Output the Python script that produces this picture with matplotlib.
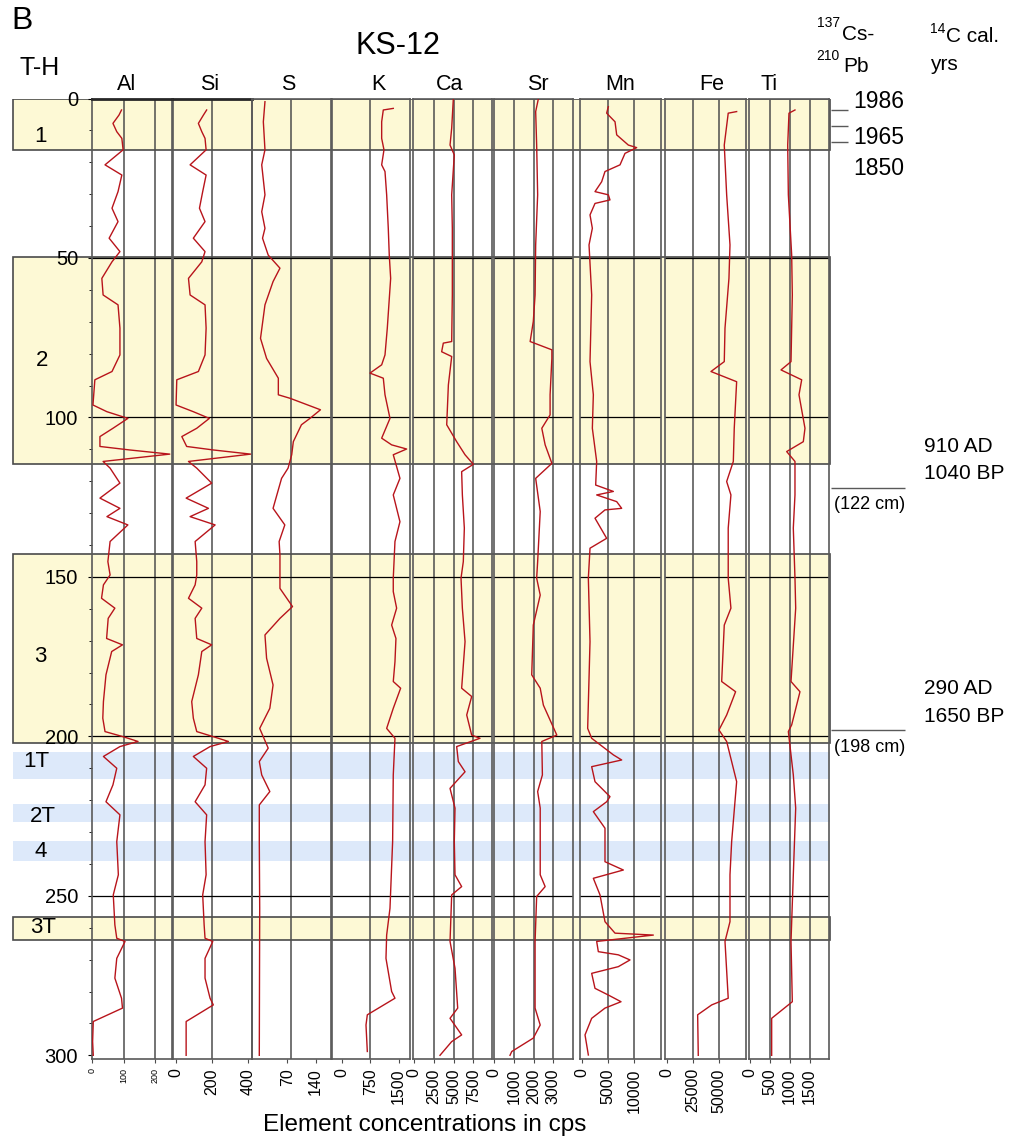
import matplotlib.pyplot as plt
from matplotlib.patches import Rectangle

plt.rcParams['font.family'] = ['Liberation Sans', 'DejaVu Sans']

# XRF core scan KS-12, depth in cm, counts per second
al_depth = [3.6, 5.2, 7.8, 10.4, 12.5, 16.1, 20.8, 24, 29.2, 34.4, 38.6, 43.8, 48, 51.2, 56.4, 61.6,
            64.7, 72, 80.4, 85.6, 88.2, 96.1, 98.2, 100.3, 103.4, 106, 109.1, 110.2, 111.5, 113.8,
            115.9, 120.6, 125.3, 128.5, 131.1, 133.7, 138.9, 145.2, 149.4, 152.5, 156.7, 159.8, 163,
            169.3, 171.3, 173.4, 180.7, 189.1, 194.3, 198.5, 200.1, 201.6, 203.2, 206.3, 210, 215.2,
            220.5, 224.6, 233, 243.4, 249.7, 259.1, 263.3, 264.3, 269.6, 275.8, 282.1, 285.2, 289.4,
            295.7, 300]
al_cps = [93, 85, 66, 78, 94, 98, 41, 94, 82, 63, 82, 54, 88, 63, 31, 35,
          82, 88, 88, 63, 9, 3, 47, 113, 66, 25, 25, 119, 245, 35,
          57, 88, 25, 88, 47, 113, 57, 50, 57, 36, 30, 72, 51,
          46, 96, 62, 44, 36, 34, 41, 98, 145, 88, 36, 78, 66,
          44, 88, 78, 83, 67, 72, 78, 104, 78, 72, 93, 96, 4,
          2, 4]

si_depth = [3.6, 5.2, 7.8, 10.4, 12.5, 16.1, 20.8, 24, 29.2, 34.4, 38.6, 43.8, 48, 51.2, 56.4, 61.6,
            64.7, 72, 80.4, 85.6, 88.2, 96.1, 98.2, 100.3, 103.4, 106, 109.1, 110.2, 111.5, 113.8,
            115.9, 120.6, 125.3, 128.5, 131.1, 133.7, 138.9, 145.2, 149.4, 152.5, 156.7, 159.8, 163,
            169.3, 171.3, 173.4, 180.7, 189.1, 194.3, 198.5, 200.1, 201.6, 203.2, 206.3, 210, 215.2,
            220.5, 224.6, 233, 243.4, 249.7, 259.1, 263.3, 264.3, 269.6, 275.8, 282.1, 284.2, 289.4, 300]
si_cps = [170, 152, 124, 143, 161, 167, 78, 167, 148, 130, 161, 96, 161, 143, 69, 78,
          161, 167, 161, 124, 4, 0, 96, 185, 115, 32, 59, 207, 415, 69,
          115, 198, 56, 180, 78, 217, 106, 115, 115, 106, 69, 143, 106,
          115, 198, 143, 124, 87, 96, 115, 207, 291, 189, 96, 170, 161,
          106, 170, 161, 167, 148, 156, 161, 204, 161, 161, 189, 207, 56, 56]

s_depth = [1.0, 7.3, 16.1, 20.8, 30.2, 35.5, 40.7, 43.8, 49.1, 53.2, 57.4, 64.7, 75.2, 81.5, 87.7,
           92.9, 94, 97.6, 100.3, 102.3, 107.6, 111.7, 115.9, 119.1, 128.5, 133.7, 138.9, 143.1,
           150.4, 153.6, 159.3, 163, 168.2, 175.5, 183.9, 191.2, 197.5, 203.7, 207.9, 212.1, 217.3,
           221.5, 233, 253.9, 300]
s_cps = [15, 11, 15, 7, 15, 7, 15, 9, 23, 52, 35, 15, 4, 19, 48,
         48, 77, 152, 126, 105, 85, 81, 72, 56, 35, 64, 50, 52,
         52, 52, 83, 52, 15, 19, 35, 27, 2, 23, 1, 7, 27,
         1, 1, 2, 1]

k_depth = [3.1, 3.6, 7.3, 12.5, 16.1, 20.8, 22.9, 30.2, 40.7, 49.1, 56.4, 72, 80.4, 83.5, 86.1,
           87.7, 92.9, 100.3, 106.5, 108.6, 109.9, 111.7, 119.1, 124.3, 132.7, 138.9, 150.4, 154.6,
           159.8, 165.1, 169.3, 176.6, 182.8, 184.9, 191.2, 197.5, 200.6, 212.1, 233, 253.9, 262.3,
           269.6, 280, 282.1, 287.3, 290.5, 298.8]
k_cps = [1357, 1093, 1050, 1050, 1111, 1050, 1138, 1182, 1225, 1251, 1288, 1199, 1138, 1050, 741,
         1093, 1138, 1270, 1050, 1314, 1711, 1357, 1534, 1357, 1534, 1402, 1357, 1357,
         1446, 1314, 1428, 1402, 1357, 1552, 1357, 1182, 1402, 1357, 1340, 1270, 1182,
         1164, 1314, 1402, 670, 635, 670]

ca_depth = [0, 9.3, 14.6, 17.7, 30.2, 40.7, 61.6, 76.2, 76.7, 79.4, 80.9, 89.8, 102.3, 107.6, 111.7,
            114.7, 117, 124.3, 134.7, 145.2, 150.4, 159.8, 170.3, 184.9, 187.5, 193.3, 199.6, 200.6,
            203.2, 207.9, 211.1, 216.3, 222.5, 233, 243.4, 247.1, 249.7, 264.3, 272.7, 285.2, 288.4,
            293.6, 295.7, 300]
ca_cps = [4980, 4770, 4560, 5100, 4770, 4850, 4850, 4770, 3710, 3500, 4770, 4350, 4140, 5400, 6460,
          7510, 6030, 6120, 6370, 6240, 5950, 6120, 6460, 6030, 7300, 6670, 7300, 8350,
          5400, 5610, 6460, 4560, 5190, 5100, 5190, 6030, 4770, 4560, 5190, 5530, 4560,
          6030, 4770, 3290]

sr_depth = [0, 4.1, 14.6, 30.2, 45.9, 61.6, 69.9, 76.2, 78.8, 81.5, 92.9, 99.2, 103.4, 108.6, 114.4,
            119.1, 129.5, 145.2, 150.4, 155.7, 165.1, 180.7, 184.9, 190.2, 199.6, 201.6, 212.1,
            217.3, 222.5, 243.4, 247.1, 250.2, 264.3, 285.2, 290.5, 294.6, 298.8, 300]
sr_cps = [2250, 2110, 2160, 2210, 2110, 2080, 1990, 1830, 2930, 2930, 2840, 2840, 2420, 2590, 2930,
          2110, 2340, 2210, 2160, 2340, 1990, 1910, 2340, 2500, 3180, 2420, 2450,
          2210, 2340, 2340, 2590, 2160, 2080, 2080, 2340, 1990, 900, 810]

mn_depth = [2.6, 4.6, 7.3, 11.4, 14.6, 15.4, 17.2, 20.8, 22.9, 26.1, 29.2, 30.2, 31.8, 32.9, 36.5,
            40.7, 45.9, 61.6, 82.5, 92.9, 103.4, 113.8, 121.2, 123.2, 124.3, 126.4, 128.5, 129,
            131.6, 137.9, 141, 150.4, 170.3, 197.5, 200.6, 205.8, 207.4, 209.5, 214.2, 218.9, 220.5,
            223.6, 228.8, 239.3, 241.9, 244.5, 249.7, 258.1, 261.7, 262.3, 264.3, 267.5, 268.5,
            270.1, 272.2, 274.3, 279, 281.1, 283.2, 285.2, 288.4, 293.6, 299.9]
mn_cps = [5060, 4740, 6350, 6670, 8910, 10510, 8270, 7310, 4420, 3780, 2500, 5060, 5380, 2500, 1540,
          1990, 1350, 1860, 1540, 2180, 1990, 2820, 2630, 6030, 2820, 6670, 7630, 4420,
          2500, 4740, 1540, 1220, 1540, 1090, 1860, 6030, 7630, 1860, 2500, 5380, 4740,
          2180, 4420, 4420, 7950, 2180, 3460, 4420, 6350, 13720, 2820, 3140, 6990,
          9230, 6990, 1860, 2500, 5060, 7500, 4420, 1860, 580, 1220]

fe_depth = [4.1, 4.6, 14.6, 30.2, 45.9, 56.4, 72, 82.5, 85.6, 88.8, 103.4, 113.8, 120.1, 124.3,
            134.7, 150.4, 159.8, 165.1, 182.8, 186, 193.3, 198, 201.6, 214.2, 233, 243.4, 258.1,
            264.3, 282.1, 284.2, 287.3, 300]
fe_cps = [67000, 58900, 55100, 57400, 60600, 59600, 55800, 55100, 42300, 67000, 64700, 63800, 57400,
          61500, 58900, 58900, 61500, 55100, 52600, 66000, 57400, 50000, 57400, 67000, 62200,
          60600, 60600, 55800, 58900, 43000, 29500, 30100]

ti_depth = [3.6, 4.6, 14.6, 30.2, 49.1, 61.6, 82.5, 85.1, 88.2, 92.9, 103.4, 107.6, 110.7, 113.8,
            124.3, 134.7, 150.4, 159.8, 182.8, 186, 196.4, 198.5, 212.1, 222.5, 243.4, 264.3,
            283.2, 284.2, 288.4, 300]
ti_cps = [1133, 982, 950, 966, 1050, 1066, 1033, 781, 1302, 1234, 1385, 1343, 924, 1133,
          1133, 1091, 1133, 1151, 1033, 1259, 1050, 966, 1091, 1151, 1091, 1033,
          1066, 966, 546, 546]

elements = ['Al', 'Si', 'S', 'K', 'Ca', 'Sr', 'Mn', 'Fe', 'Ti']
depths = [al_depth, si_depth, s_depth, k_depth, ca_depth, sr_depth, mn_depth, fe_depth, ti_depth]
values = [al_cps, si_cps, s_cps, k_cps, ca_cps, sr_cps, mn_cps, fe_cps, ti_cps]
x_ticks = [[0, 100, 200], [0, 200, 400], [70, 140], [0, 750, 1500], [0, 2500, 5000, 7500],
           [0, 1000, 2000, 3000], [0, 5000, 10000], [0, 25000, 50000], [0, 500, 1000, 1500]]

# stratigraphic units: yellow = T-H units, blue = tephra layers
yellow_zones = [(0, 16.1), (49.7, 114.6), (142.8, 202), (256.6, 263.8)]
blue_zones = [(204.9, 213.3), (221.2, 226.8), (232.8, 239)]
zone_labels = ['1', '2', '3', '1T', '2T', '4', '3T']
zone_label_depths = [12, 82, 175, 208, 225, 236, 260]
zone_label_x = [40, 42, 40, 36, 43, 41, 43]

pb_marks = [3.6, 8.6, 13.6]
pb_years = ['1986', '1965', '1850']
pb_year_depths = [0.8, 12.1, 21.8]
c14_depths = [122, 198]
c14_ages = [('910 AD', '1040 BP'), ('290 AD', '1650 BP')]

W, H = 1009, 1148
TOP, BOT = 98.5, 1058.5
DMAX = 301
RED = '#b8141b'

# panel layout in pixels: left, right, x limits, grid lines, header x
edges = [(92, 172), (173, 252), (252, 331), (332, 410), (413, 492),
         (494, 573), (580, 661), (665, 746), (749, 829)]
xlims = [(0, 252), (-17, 422), (-17, 178), (-265, 1800), (-125, 9870),
         (0, 4000), (-385, 15190), (-1900, 76000), (-25, 1990)]
grids = [[100, 200], [200], [80], [750], [2500, 5000, 7500],
         [1000, 2000, 3000], [5000, 10000], [25000, 50000], [500, 1000, 1500]]
header_x = [127, 210, 288, 378, 450, 538, 620, 712, 769]


def fx(px):
    return px / W


def fy(py):
    return 1 - py / H


fig = plt.figure(figsize=(W / 100, H / 100), dpi=100)

bg = fig.add_axes([0, fy(BOT), 1, (BOT - TOP) / H], zorder=0)
bg.set_xlim(0, W)
bg.set_ylim(DMAX, 0)
bg.axis('off')
for top, bot in blue_zones:
    bg.add_patch(Rectangle((13, top), 817, bot - top, facecolor='#dde9fa', edgecolor='none'))
for top, bot in yellow_zones:
    bg.add_patch(Rectangle((13, top), 817, bot - top, facecolor='#fdf9d5',
                           edgecolor='#4a4a4a', lw=1.2))
for lab, d, x in zip(zone_labels, zone_label_depths, zone_label_x):
    bg.text(x, d, lab, ha='center', va='center', fontsize=16)

# 137Cs / 210Pb dates and 14C dates on the right
bg.hlines(pb_marks, 831, 848, color='0.35', lw=1.0, clip_on=False)
for yr, d in zip(pb_years, pb_year_depths):
    bg.text(853, d, yr, ha='left', va='center', fontsize=16.5)
for d, (ad, bp) in zip(c14_depths, c14_ages):
    bg.hlines(d, 831, 905, color='0.35', lw=1.0, clip_on=False)
    bg.text(834, d + 5.4, '(%d cm)' % d, ha='left', va='center', fontsize=13)
    bg.text(924, d - 13, ad, ha='left', va='center', fontsize=15)
    bg.text(924, d - 4.3, bp, ha='left', va='center', fontsize=15)

for i, name in enumerate(elements):
    x0, x1 = edges[i]
    ax = fig.add_axes([fx(x0), fy(BOT), (x1 - x0) / W, (BOT - TOP) / H], zorder=1)
    ax.patch.set_alpha(0)
    ax.plot(values[i], depths[i], color=RED, lw=1.0, zorder=3)
    ax.set_xlim(*xlims[i])
    ax.set_ylim(DMAX, 0)
    for g in grids[i]:
        ax.axvline(g, color='0.3', lw=1.1, zorder=1)
    for d in range(50, 300, 50):
        ax.axhline(d, color='k', lw=0.9, zorder=1)
    ax.set_xticks(x_ticks[i])
    ax.set_xticklabels([str(t) for t in x_ticks[i]], rotation=90,
                       fontsize=6.5 if i == 0 else 11.5)
    ax.tick_params(axis='x', length=3, pad=4, color='0.3')
    if i == 0:
        ax.set_yticks(range(0, 301, 50))
        ax.set_yticks(range(0, 301, 10), minor=True)
        ax.tick_params(axis='y', which='major', length=3, pad=7, labelsize=14.5)
        ax.tick_params(axis='y', which='minor', length=2.5)
    else:
        ax.set_yticks([])
    for s in ax.spines.values():
        s.set_color('0.35')
        s.set_linewidth(1.2)
    if i < 2:
        ax.spines['top'].set_color('0.15')
        ax.spines['top'].set_linewidth(2)
    fig.text(fx(header_x[i]), fy(85), name, ha='center', va='center', fontsize=15.5)

fig.text(fx(22), fy(21), 'B', ha='center', va='center', fontsize=23)
fig.text(fx(398), fy(46), 'KS-12', ha='center', va='center', fontsize=22)
fig.text(fx(40), fy(68), 'T-H', ha='center', va='center', fontsize=18)

fig.text(fx(817), fy(23), '137', ha='left', va='center', fontsize=10)
fig.text(fx(842), fy(35), 'Cs-', ha='left', va='center', fontsize=15)
fig.text(fx(816), fy(56), '210', ha='left', va='center', fontsize=10)
fig.text(fx(843), fy(67), 'Pb', ha='left', va='center', fontsize=15)
fig.text(fx(930), fy(29), '14', ha='left', va='center', fontsize=10)
fig.text(fx(946), fy(37), 'C cal.', ha='left', va='center', fontsize=15)
fig.text(fx(930), fy(64), 'yrs', ha='left', va='center', fontsize=15)

fig.text(fx(425), fy(1125), 'Element concentrations in cps', ha='center', va='center', fontsize=17.5)

fig.savefig('out.png', dpi=100)
